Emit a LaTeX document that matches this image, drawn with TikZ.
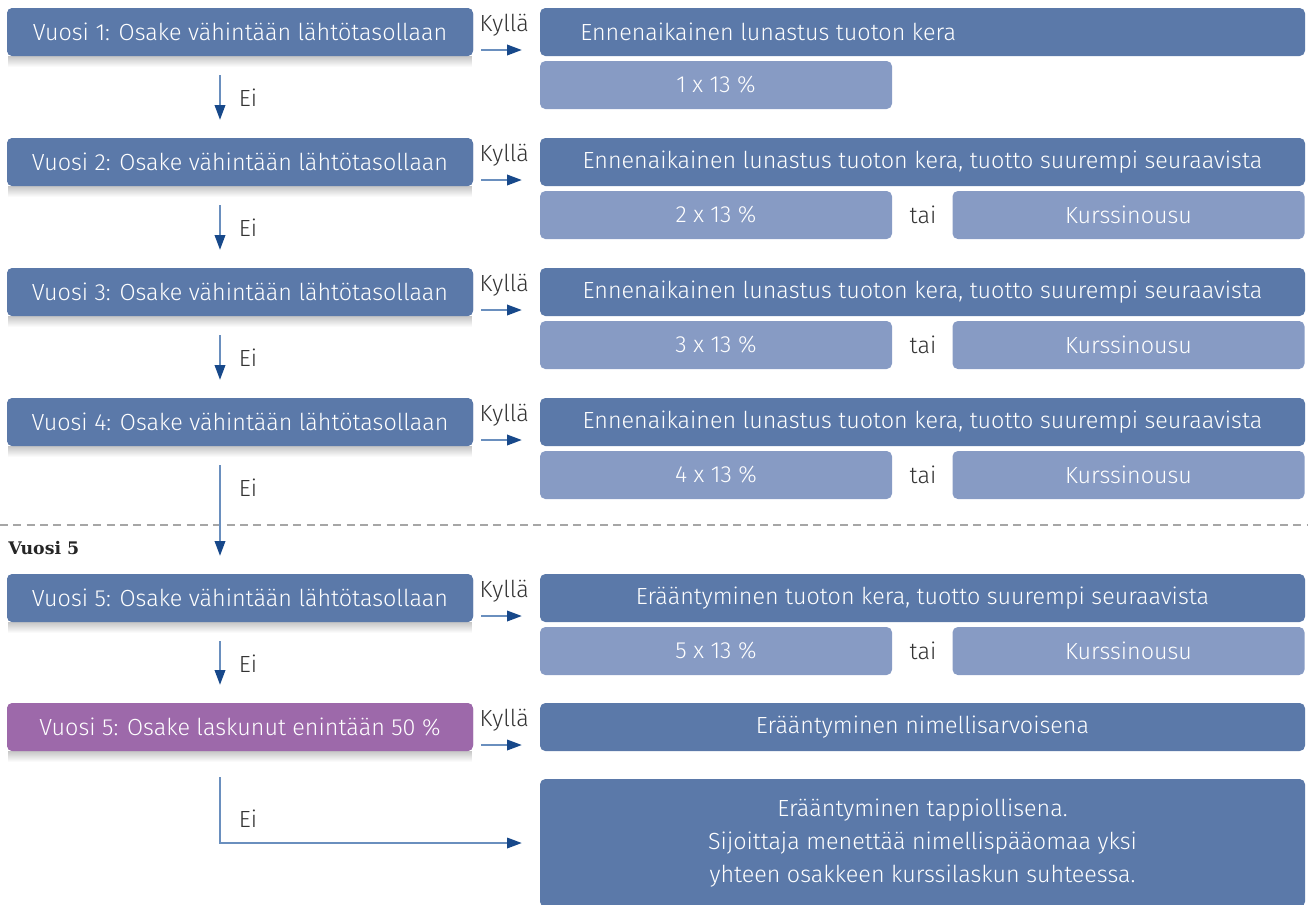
\documentclass[tikz,border=0pt]{standalone}
\usepackage{fontspec}
\setmainfont{Fira Sans}[UprightFont=* Light, BoldFont=* Regular]
\newfontfamily\slab{DejaVu Serif}
\usetikzlibrary{arrows.meta,calc}
\definecolor{dk}{HTML}{5B79A9}
\definecolor{lt}{HTML}{879BC4}
\definecolor{pu}{HTML}{9D69AA}
\definecolor{arl}{HTML}{6A8FBE}
\definecolor{ard}{HTML}{17488A}
\definecolor{txt}{HTML}{333333}
\tikzset{
  box/.style={rounded corners=4pt, inner sep=0pt, text=white, font=\fontsize{17.5}{21}\selectfont, align=center},
  lbox/.style={box, fill=dk, minimum width=349.5pt, minimum height=36pt},
  pbox/.style={box, fill=pu, minimum width=349.5pt, minimum height=36pt},
  rbox/.style={box, fill=dk, minimum width=573.75pt, minimum height=36pt},
  sbox/.style={box, fill=lt, minimum width=264pt, minimum height=36pt},
  lab/.style={text=txt, font=\fontsize{17.5}{21}\selectfont, inner sep=0pt},
  conn/.style={draw=arl, line width=1pt, -{Triangle[length=11pt,width=8pt,color=ard]}},
}
\newcommand{\shadowbelow}[1]{\shade[top color=black!22, bottom color=white] ([xshift=1pt]#1.south west) rectangle ([xshift=-1pt,yshift=-8pt]#1.south east);}
\begin{document}
\begin{tikzpicture}[x=0.75pt,y=-0.75pt]
\useasboundingbox (0,0) rectangle (1308,904);
% left decision boxes
\foreach \n/\yy/\t in {1/32/Vuosi 1: Osake vähintään lähtötasollaan,
                       2/162/Vuosi 2: Osake vähintään lähtötasollaan,
                       3/292/Vuosi 3: Osake vähintään lähtötasollaan,
                       4/422/Vuosi 4: Osake vähintään lähtötasollaan,
                       5/598/Vuosi 5: Osake vähintään lähtötasollaan}{
  \node[lbox] (l\n) at (240,\yy) {\t};
  \shadowbelow{l\n}
  \node[lbox] at (240,\yy) {\t};
}
\node[pbox] (l6) at (240,727) {Vuosi 5: Osake laskunut enintään 50 \%};
\shadowbelow{l6}
\node[pbox] at (240,727) {Vuosi 5: Osake laskunut enintään 50 \%};

% right result boxes
\node[rbox] (r1) at (922.5,32) {};
\node[box, anchor=west] (r1t) at (580,32) {Ennenaikainen lunastus tuoton kera};
\node[sbox] (s1) at (716,85) {1 x 13 \%};
\foreach \n/\yy/\k in {2/162/2,3/292/3,4/422/4}{
  \node[rbox] (r\n) at (922.5,\yy) {Ennenaikainen lunastus tuoton kera, tuotto suurempi seuraavista};
  \node[sbox] (s\n) at (716,\yy+53) {\k\ x 13 \%};
  \node[sbox] (k\n) at (1128.5,\yy+53) {Kurssinousu};
  \node[lab] (t\n) at (923,\yy+53) {tai};
}
\node[rbox] (r5) at (922.5,598) {Erääntyminen tuoton kera, tuotto suurempi seuraavista};
\node[sbox] (s5) at (716,651) {5 x 13 \%};
\node[sbox] (k5) at (1128.5,651) {Kurssinousu};
\node[lab] (t5) at (923,651) {tai};
\node[rbox] (r6) at (922.5,727) {Erääntyminen nimellisarvoisena};
\node[box, fill=dk, minimum width=573.75pt, minimum height=96pt, font=\fontsize{17.5}{25}\selectfont] (r7) at (922.5,843)
  {Erääntyminen tappiollisena.\\Sijoittaja menettää nimellispääomaa yksi\\yhteen osakkeen kurssilaskun suhteessa.};

% dashed separator
\coordinate (dl) at (0,525);
\coordinate (dr) at (1308,525);
\draw[black!35, line width=0.8pt, dash pattern=on 6pt off 4pt] (dl) -- (dr);
\node[anchor=west, inner sep=0pt, font=\slab\bfseries\fontsize{13}{15}\selectfont, text=black!85] (v5) at (8,548) {Vuosi 5};

% Kyllä arrows
\foreach \n in {1,...,6}{
  \draw[conn, shorten <=6pt, shorten >=13.5pt] ([yshift=-13.5pt]l\n.east) -- ([yshift=-13.5pt]r\n.west);
  \node[lab] (ky\n) at ($(l\n.east)+(31,-7)$) {Kyllä};
}
% Ei arrows
\coordinate (lb) at (220,0);
\foreach \a/\b in {1/2,2/3,3/4,4/5,5/6}{
  \draw[conn, shorten <=14.25pt, shorten >=13.5pt] (l\a.south -| lb) -- (l\b.north -| lb);
  \node[lab] (ei\a) at ($(l\a.south -| lb)+(28,41)$) {Ei};
}
\draw[conn, shorten <=19.5pt, shorten >=13.5pt] (l6.south -| lb) |- (r7.west);
\node[lab] (ei6) at (248,819) {Ei};
\end{tikzpicture}
\end{document}
